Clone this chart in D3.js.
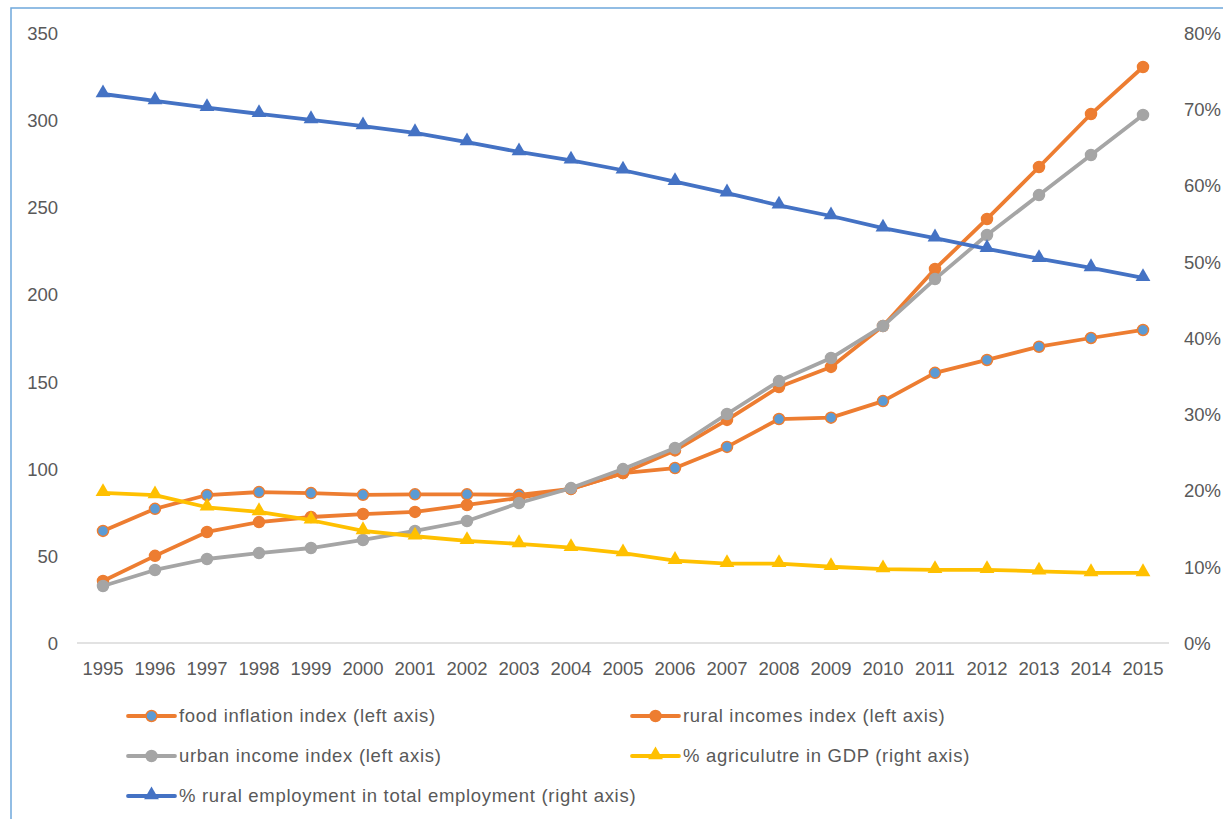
<!DOCTYPE html>
<html><head><meta charset="utf-8">
<script src="https://cdn.jsdelivr.net/npm/d3@7"></script>
<style>body{margin:0;background:#fff;overflow:hidden;} text{font-family:"Liberation Sans",Arial,sans-serif;fill:#595959;}</style>
</head><body>
<svg id="c" width="1223" height="819"></svg>
<script>
const years = [1995,1996,1997,1998,1999,2000,2001,2002,2003,2004,2005,2006,2007,2008,2009,2010,2011,2012,2013,2014,2015];
const foodInflation = [64.3,77,84.9,86.6,86,85,85.3,85.3,85,88.4,97.5,100.4,112.5,128.5,129.3,138.8,155,162.4,170,175,179.6];
const ruralIncomes = [35.6,50,63.7,69.4,72.3,74,75.2,79.2,83.2,88.4,97.5,110.5,128,146.9,158.4,181.9,214.6,243.3,273.1,303.5,330.5];
const urbanIncome = [32.7,41.9,48.2,51.6,54.5,59.1,64.3,70,80.3,88.9,99.8,111.9,131.4,150.3,163.5,181.9,208.8,234.1,257,280,303];
const agriGDP = [0.197,0.194,0.178,0.172,0.161,0.147,0.140,0.134,0.130,0.125,0.118,0.108,0.104,0.104,0.100,0.097,0.096,0.096,0.094,0.092,0.092];
const ruralEmployment = [0.720,0.711,0.702,0.694,0.686,0.678,0.669,0.657,0.644,0.633,0.620,0.605,0.590,0.574,0.560,0.544,0.531,0.517,0.504,0.492,0.479];
const leftTicks = [0,50,100,150,200,250,300,350];
const rightTicks = [0,0.1,0.2,0.3,0.4,0.5,0.6,0.7,0.8];
const seriesNames = ["food inflation index (left axis)","rural incomes index (left axis)","urban income index (left axis)","% agriculutre in GDP (right axis)","% rural employment in total employment (right axis)"];

const svg = d3.select("#c");
svg.append("rect").attr("x",11).attr("y",8).attr("width",1240).attr("height",840)
  .attr("fill","none").attr("stroke","#6FA8DC").attr("stroke-width",1.5);

const x = d3.scaleBand().domain(years).range([77,1169]);
const yL = d3.scaleLinear().domain([0,350]).range([643,33]);
const yR = d3.scaleLinear().domain([0,0.8]).range([643,33]);
const cx = d => x(d) + x.bandwidth()/2;
const FS = 18.5;

svg.append("line").attr("x1",77).attr("x2",1169).attr("y1",yL(0)).attr("y2",yL(0)).attr("stroke","#D9D9D9").attr("stroke-width",1.5);

const la = svg.append("g").attr("transform","translate(58,0)").call(d3.axisLeft(yL).tickValues(leftTicks).tickSize(0).tickPadding(0));
la.select(".domain").remove();
la.selectAll("text").attr("font-size",FS).attr("fill","#595959").attr("dy","0.35em");
const ra = svg.append("g").attr("transform","translate(1184,0)").call(d3.axisRight(yR).tickValues(rightTicks).tickFormat(d3.format(".0%")).tickSize(0).tickPadding(0));
ra.select(".domain").remove();
ra.selectAll("text").attr("font-size",FS).attr("fill","#595959").attr("dy","0.35em");
const ba = svg.append("g").attr("transform","translate(0,"+yL(0)+")").call(d3.axisBottom(x).tickSize(0).tickPadding(19));
ba.select(".domain").remove();
ba.selectAll("text").attr("font-size",FS).attr("fill","#595959");

const series = [
  {name:seriesNames[0], data:foodInflation, y:yL, stroke:"#ED7D31", mfill:"#5B9BD5", mstroke:"#ED7D31", shape:"circle"},
  {name:seriesNames[1], data:ruralIncomes, y:yL, stroke:"#ED7D31", mfill:"#ED7D31", mstroke:"#ED7D31", shape:"circle"},
  {name:seriesNames[2], data:urbanIncome, y:yL, stroke:"#A5A5A5", mfill:"#A5A5A5", mstroke:"#A5A5A5", shape:"circle"},
  {name:seriesNames[3], data:agriGDP, y:yR, stroke:"#FFC000", mfill:"#FFC000", mstroke:"#FFC000", shape:"tri"},
  {name:seriesNames[4], data:ruralEmployment, y:yR, stroke:"#4472C4", mfill:"#4472C4", mstroke:"#4472C4", shape:"tri"}
];
const tri = d3.symbol().type(d3.symbolTriangle).size(95);
function marker(g, s, px, py){
  if(s.shape==="circle"){
    g.append("circle").attr("cx",px).attr("cy",py).attr("r",5.5).attr("fill",s.mfill).attr("stroke",s.mstroke).attr("stroke-width",1.5);
  } else {
    g.append("path").attr("d",tri()).attr("transform","translate("+px+","+(py-1)+")").attr("fill",s.mfill);
  }
}
series.forEach(s=>{
  const g = svg.append("g");
  const line = d3.line().x((d,i)=>cx(years[i])).y(d=>s.y(d));
  g.append("path").attr("d",line(s.data)).attr("fill","none").attr("stroke",s.stroke).attr("stroke-width",3.8).attr("stroke-linejoin","round").attr("stroke-linecap","round");
  s.data.forEach((d,i)=>marker(g,s,cx(years[i]),s.y(d)));
});

const legPos = [[128,716],[632,716],[128,756],[632,756],[128,796]];
series.forEach((s,i)=>{
  const [lx,ly] = legPos[i];
  const g = svg.append("g");
  g.append("line").attr("x1",lx).attr("x2",lx+47).attr("y1",ly).attr("y2",ly).attr("stroke",s.stroke).attr("stroke-width",3.8).attr("stroke-linecap","round");
  marker(g,s,lx+23.5,ly);
  g.append("text").attr("x",lx+51).attr("y",ly).attr("dy","0.35em").attr("font-size",FS).attr("letter-spacing",0.7).text(s.name);
});
</script>
</body></html>
